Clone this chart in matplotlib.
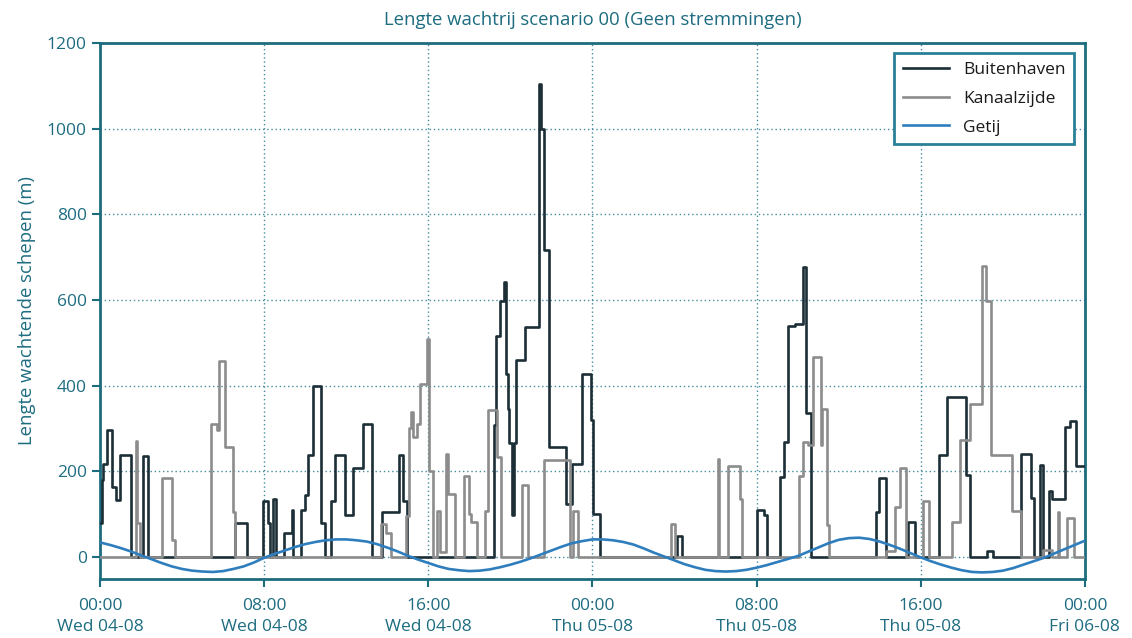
import matplotlib
matplotlib.use("Agg")
import matplotlib.pyplot as plt

# ---- data (hours since Wed 04-08 00:00) ----
buiten_t = [0.0, 0.08, 0.16, 0.32, 0.6, 0.76, 1.0, 1.51, 2.08, 2.35, 6.6, 7.19,
            7.96, 8.2, 8.31, 8.41, 8.56, 8.96, 9.34, 9.42, 9.78, 9.98, 10.12, 10.37,
            10.75, 10.96, 11.27, 11.47, 11.95, 12.34, 12.8, 13.24, 13.73, 14.57, 14.78,
            14.97, 19.2, 19.32, 19.48, 19.68, 19.81, 19.87, 19.94, 20.1, 20.18, 20.29,
            20.7, 21.38, 21.47, 21.63, 21.87, 22.7, 23.02, 23.49, 23.93, 24.01, 24.35,
            28.13, 28.37, 32.0, 32.36, 32.52, 33.14, 33.33, 33.55, 33.85, 34.24, 34.42,
            34.66, 37.83, 37.96, 38.33, 39.36, 39.7, 40.91, 41.27, 42.21, 42.38, 43.22,
            43.51, 44.89, 45.38, 45.54, 45.79, 45.95, 46.27, 46.4, 47.05, 47.28, 47.57,
            48.0]
buiten_v = [80, 180, 216, 297, 163, 134, 239, 0, 236, 0, 79, 0,
            131, 79, 0, 135, 0, 56, 109, 0, 109, 144, 237, 399,
            79, 0, 130, 239, 99, 208, 311, 0, 106, 239, 131,
            0, 307, 515, 597, 642, 428, 346, 265, 97, 265, 459,
            537, 1105, 1000, 716, 257, 124, 218, 428, 320, 101, 0,
            49, 0, 109, 97, 0, 187, 269, 540, 543, 678, 335,
            0, 106, 185, 0, 82, 0, 238, 374, 191, 0, 14,
            0, 240, 137, 0, 215, 0, 155, 135, 304, 318, 212,
            212]

kanaal_t = [0.0, 1.74, 1.82, 1.95, 3.0, 3.49, 3.65, 5.39, 5.68, 5.8, 6.09, 6.49,
            6.6, 13.72, 13.92, 14.18, 14.9, 15.05, 15.16, 15.25, 15.45, 15.58, 15.92,
            16.04, 16.24, 16.43, 16.58, 16.88, 16.96, 17.29, 17.73, 17.97, 18.1, 18.38,
            18.75, 18.91, 19.35, 19.56, 20.57, 20.86, 21.64, 22.93, 23.05, 23.3, 27.81,
            28.04, 30.12, 30.17, 30.6, 31.17, 31.29, 34.06, 34.26, 34.5, 34.73, 35.15,
            35.17, 35.42, 35.55, 38.33, 38.74, 39.0, 39.26, 40.1, 40.38, 41.53, 41.89,
            42.38, 43.0, 43.19, 43.43, 44.45, 44.89, 45.95, 46.4, 46.69, 46.73, 47.13,
            47.49, 48.0]
kanaal_v = [0, 271, 79, 0, 184, 39, 0, 310, 296, 457, 257, 105,
            0, 78, 56, 0, 95, 300, 339, 280, 311, 403, 510,
            200, 0, 107, 12, 240, 148, 0, 188, 101, 82, 0,
            107, 342, 233, 0, 167, 0, 227, 0, 107, 0, 78,
            0, 229, 0, 213, 135, 0, 190, 269, 261, 466, 261,
            345, 75, 0, 14, 117, 207, 0, 131, 0, 82, 272,
            356, 679, 598, 238, 107, 0, 16, 0, 106, 0, 90,
            0, 0]

# tide read every half hour
getij_t = [i * 0.5 for i in range(97)]
getij_v = [34, 28, 21, 13, 4, -5, -14, -22, -28, -32, -34, -35, -33, -28, -22, -13,
           -2, 7, 15, 23, 30, 35, 39, 41, 41, 39, 36, 30, 22, 13, 3, -6,
           -14, -22, -28, -31, -33, -32, -29, -24, -18, -11, -3, 6, 15, 24, 32, 37,
           41, 41, 39, 35, 29, 20, 10, 1, -8, -17, -24, -30, -33, -34, -33, -30,
           -25, -19, -12, -5, 2, 12, 22, 32, 40, 44, 45, 42, 36, 28, 19, 9,
           -1, -10, -18, -25, -31, -35, -36, -35, -32, -26, -18, -10, -2, 8, 18, 28,
           38]

xtick_pos = [0, 8, 16, 24, 32, 40, 48]
xtick_labels = ["00:00\nWed 04-08", "08:00\nWed 04-08", "16:00\nWed 04-08",
                "00:00\nThu 05-08", "08:00\nThu 05-08", "16:00\nThu 05-08",
                "00:00\nFri 06-08"]
ytick_pos = [0, 200, 400, 600, 800, 1000, 1200]

title = "Lengte wachtrij scenario 00 (Geen stremmingen)"
ylabel = "Lengte wachtende schepen (m)"
labels = ["Buitenhaven", "Kanaalzijde", "Getij"]

# ---- style ----
teal = "#1d6c80"
plt.rcParams['font.family'] = ['Open Sans', 'DejaVu Sans']
plt.rcParams['font.size'] = 12

fig = plt.figure(figsize=(11.32, 6.38), dpi=100)
ax = fig.add_axes([0.0883, 0.0925, 0.8701, 0.8401])

ax.plot(buiten_t, buiten_v, drawstyle='steps-post', color='#1c2e36', lw=1.9,
        label=labels[0], zorder=3)
ax.plot(kanaal_t, kanaal_v, drawstyle='steps-post', color='#8c8c8c', lw=1.9,
        label=labels[1], zorder=4)
ax.plot(getij_t, getij_v, color='#2e7dbd', lw=1.9, label=labels[2], zorder=5)

ax.set_xlim(0, 48)
ax.set_ylim(-51.4, 1200)
ax.set_xticks(xtick_pos)
ax.set_xticklabels(xtick_labels)
ax.set_yticks(ytick_pos)
for lab in ax.get_xticklabels():
    lab.set_linespacing(1.35)

ax.grid(True, linestyle=(0, (1, 2)), color='#2f7f96', lw=1.0, alpha=0.9)
ax.set_axisbelow(True)

for s in ax.spines.values():
    s.set_color(teal)
    s.set_linewidth(2.0)

ax.tick_params(axis='both', colors=teal, labelcolor=teal, direction='out',
               length=6, width=1.5, labelsize=12.5)
ax.tick_params(axis='x', pad=8)

ax.set_title(title, color=teal, fontsize=13.3, pad=13)
ax.set_ylabel(ylabel, color=teal, fontsize=13.3, labelpad=8)

leg = ax.legend(loc='upper right', fancybox=False, frameon=True, fontsize=12.5,
                handlelength=2.7, borderaxespad=0.6, borderpad=0.5,
                labelspacing=0.72, framealpha=1.0)
leg.get_frame().set_edgecolor('#2a8096')
leg.get_frame().set_linewidth(2.0)
for txt in leg.get_texts():
    txt.set_color('#1a1a1a')

fig.savefig("out.png", dpi=100)
